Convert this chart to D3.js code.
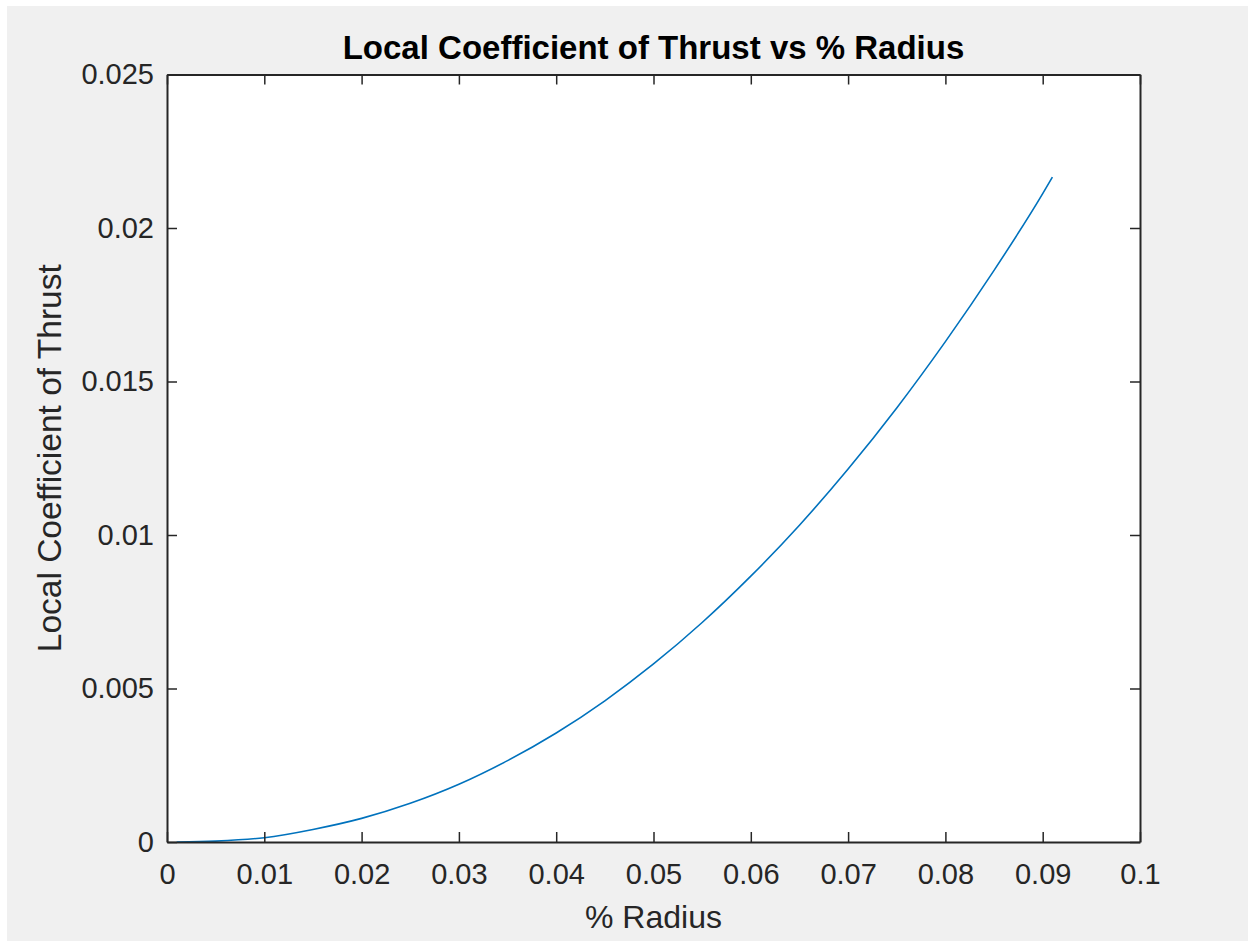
<!DOCTYPE html>
<html>
<head>
<meta charset="utf-8">
<script src="https://cdn.jsdelivr.net/npm/d3@7"></script>
<style>
    html, body { margin: 0; padding: 0; background: #ffffff; }
    svg { display: block; }
    text { font-family: "Liberation Sans", Arial, Helvetica, sans-serif; fill: #262626; }
</style>
</head>
<body>
<svg id="chart"></svg>
<script>

// Values
var radius = [0.001, 0.005, 0.01, 0.015, 0.02, 0.025, 0.03, 0.035, 0.04, 0.045,
    0.05, 0.055, 0.06, 0.065, 0.07, 0.075, 0.08, 0.085, 0.09, 0.091];
var thrust = [0.0, 0.00003, 0.00014, 0.00041, 0.00077, 0.00126, 0.00188, 0.00265, 0.00355, 0.0046,
    0.0058, 0.00715, 0.00866, 0.01032, 0.01215, 0.01414, 0.0163, 0.01862, 0.02112, 0.02166];

var xTicks = [0, 0.01, 0.02, 0.03, 0.04, 0.05, 0.06, 0.07, 0.08, 0.09, 0.1];
var xTickLabels = ['0', '0.01', '0.02', '0.03', '0.04', '0.05', '0.06', '0.07', '0.08', '0.09', '0.1'];
var yTicks = [0, 0.005, 0.01, 0.015, 0.02, 0.025];
var yTickLabels = ['0', '0.005', '0.01', '0.015', '0.02', '0.025'];

var width = 1248, height = 941;
var plotLeft = 167, plotRight = 1140, plotTop = 74.5, plotBottom = 842;

var svg = d3.select('#chart')
    .attr('width', width)
    .attr('height', height);

// figure background (grey with thin white border top/left)
svg.append('rect')
    .attr('x', 7).attr('y', 6)
    .attr('width', width - 7).attr('height', height - 6)
    .attr('fill', '#f0f0f0');

var x = d3.scaleLinear().domain([0, 0.1]).range([plotLeft, plotRight]);
var y = d3.scaleLinear().domain([0, 0.025]).range([plotBottom, plotTop]);

// axes area
svg.append('rect')
    .attr('x', plotLeft).attr('y', plotTop)
    .attr('width', plotRight - plotLeft).attr('height', plotBottom - plotTop)
    .attr('fill', '#ffffff');

// the curve
var line = d3.line()
    .x(function (d, i) { return x(radius[i]); })
    .y(function (d) { return y(d); })
    .curve(d3.curveMonotoneX);

svg.append('path')
    .datum(thrust)
    .attr('d', line)
    .attr('fill', 'none')
    .attr('stroke', '#0072bd')
    .attr('stroke-width', 1.6);

var tickLen = 10;

// bottom axis with labels
var xAxis = d3.axisBottom(x)
    .tickValues(xTicks)
    .tickSizeInner(-tickLen)
    .tickSizeOuter(0)
    .tickPadding(21)
    .tickFormat(function (d, i) { return xTickLabels[i]; });

var gx = svg.append('g')
    .attr('transform', 'translate(0,' + plotBottom + ')')
    .call(xAxis);

// left axis with labels
var yAxis = d3.axisLeft(y)
    .tickValues(yTicks)
    .tickSizeInner(-tickLen)
    .tickSizeOuter(0)
    .tickPadding(13)
    .tickFormat(function (d, i) { return yTickLabels[i]; });

var gy = svg.append('g')
    .attr('transform', 'translate(' + plotLeft + ',0)')
    .call(yAxis);

// top and right mirrored ticks (box on)
var gxTop = svg.append('g')
    .attr('transform', 'translate(0,' + plotTop + ')')
    .call(d3.axisTop(x).tickValues(xTicks).tickSizeInner(-tickLen).tickSizeOuter(0).tickFormat(''));

var gyRight = svg.append('g')
    .attr('transform', 'translate(' + plotRight + ',0)')
    .call(d3.axisRight(y).tickValues(yTicks).tickSizeInner(-tickLen).tickSizeOuter(0).tickFormat(''));

[gx, gy, gxTop, gyRight].forEach(function (g) {
    g.selectAll('.domain').attr('stroke', '#262626').attr('stroke-width', 2);
    g.selectAll('.tick line').attr('stroke', '#262626').attr('stroke-width', 1.5);
    g.selectAll('.tick text')
        .attr('fill', '#262626')
        .style('font-size', '29px')
        .style('font-family', '"Liberation Sans", Arial, sans-serif');
});

// title
svg.append('text')
    .attr('x', (plotLeft + plotRight) / 2)
    .attr('y', 59)
    .attr('text-anchor', 'middle')
    .style('font-size', '33px')
    .style('font-weight', 'bold')
    .style('fill', '#000000')
    .text('Local Coefficient of Thrust vs % Radius');

// x label
svg.append('text')
    .attr('x', (plotLeft + plotRight) / 2)
    .attr('y', 928)
    .attr('text-anchor', 'middle')
    .style('font-size', '32px')
    .text('% Radius');

// y label
svg.append('text')
    .attr('transform', 'translate(61,' + ((plotTop + plotBottom) / 2) + ') rotate(-90)')
    .attr('text-anchor', 'middle')
    .style('font-size', '33.5px')
    .text('Local Coefficient of Thrust');

</script>
</body>
</html>
